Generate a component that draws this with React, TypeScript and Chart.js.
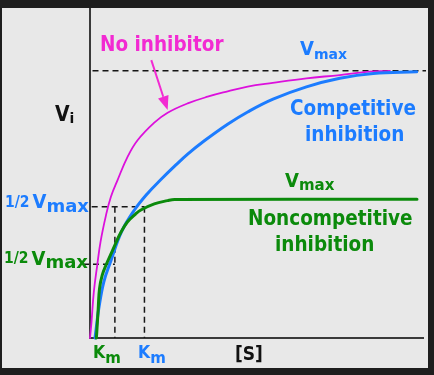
import { useEffect, useRef } from "react";
import { Chart, registerables } from "chart.js";

Chart.register(...registerables);

// ---- data (substrate concentration [S] in arbitrary units, velocity as % of Vmax) ----
const sNoInhibitor = [0, 0.45, 1.14, 2.16, 3.15, 4.8, 6.24, 8.25, 11.24, 14.24, 19.25, 23.24, 29.24, 35.23, 41.23, 47.2, 54.7, 64.8, 74.8, 82.8, 89.8];
const vNoInhibitor = [0, 6.0, 17.2, 27.2, 36.0, 46.0, 52.8, 59.1, 67.8, 74.0, 80.6, 84.3, 87.8, 90.3, 92.3, 94.1, 95.5, 97.2, 98.4, 99.6, 100];

const sCompetitive = [1.5, 1.8, 2.64, 4.14, 6.15, 9.45, 13.25, 17.24, 21.23, 25.25, 29.24, 34.24, 41.2, 47.2, 54.8, 64.8, 74.8, 84.8, 97.8];
const vCompetitive = [0, 3.0, 11.1, 21.0, 28.5, 39.8, 47.8, 54.1, 59.3, 64.2, 68.8, 73.8, 80.0, 84.6, 89.4, 94.0, 97.2, 99.0, 99.6];

const sNoncompetitive = [1.9, 2.0, 2.46, 2.85, 3.66, 4.86, 6.66, 7.65, 9.15, 11.24, 13.64, 15.23, 19.25, 23.24, 25.3, 97.9];
const vNoncompetitive = [0, 1.6, 11.0, 18.5, 23.5, 27.5, 32.5, 35.3, 39.3, 43.5, 46.4, 47.9, 50.2, 51.4, 51.8, 51.9];

const vmax = 100;
const vmaxLineSpan = [0.75, 100.6];
const halfVmaxCompetitive = 49.1;
const halfVmaxNoncompetitive = 27.6;
const kmCompetitive = 16.3;
const kmNoncompetitive = 7.45;
const halfCompSpan = [0.5, kmCompetitive];
const halfNoncompSpan = [-2.1, kmNoncompetitive];
const arrowFrom = [18.35, 104.0];
const arrowTo = [23.24, 85.3];

const W = 434;
const H = 375;

const MAGENTA_LINE = "#dc10dc";
const MAGENTA_TEXT = "#f22ad2";
const BLUE = "#1c7cff";
const GREEN = "#0b8a0b";
const DASH = "#161616";

const F = (size: number, cond = true) =>
  `bold ${size}px ${cond ? '"DejaVu Sans Condensed", ' : ""}"DejaVu Sans", sans-serif`;

type Part = [string, string, number, number?];

function run(ctx: CanvasRenderingContext2D, x: number, y: number, color: string, parts: Part[]) {
  let cx = x;
  ctx.fillStyle = color;
  ctx.textBaseline = "alphabetic";
  ctx.textAlign = "left";
  for (const [t, font, dy, gap] of parts) {
    ctx.font = font;
    ctx.fillText(t, cx, y + dy);
    cx += ctx.measureText(t).width + (gap || 0);
  }
}

const pts = (xs: number[], ys: number[]) => xs.map((x, i) => ({ x, y: ys[i] }));

export default function App() {
  const ref = useRef<HTMLCanvasElement>(null);

  useEffect(() => {
    const canvas = ref.current;
    if (!canvas) return;

    const deco = {
      id: "deco",
      beforeDraw(chart: any) {
        const ctx = chart.ctx as CanvasRenderingContext2D;
        ctx.save();
        ctx.fillStyle = "#1e1e1e";
        ctx.fillRect(0, 0, W, H);
        ctx.fillStyle = "#e8e8e8";
        ctx.fillRect(2, 8, 426, 360);
        ctx.restore();
      },
      beforeDatasetsDraw(chart: any) {
        const ctx = chart.ctx as CanvasRenderingContext2D;
        const a = chart.chartArea;
        ctx.save();
        ctx.strokeStyle = "#3a3a3a";
        ctx.lineWidth = 2;
        ctx.beginPath();
        ctx.moveTo(a.left, a.top);
        ctx.lineTo(a.left, a.bottom);
        ctx.lineTo(a.right, a.bottom);
        ctx.stroke();
        ctx.restore();
      },
      afterDatasetsDraw(chart: any) {
        const ctx = chart.ctx as CanvasRenderingContext2D;
        const xs = chart.scales.x;
        const ys = chart.scales.y;
        ctx.save();
        // arrow
        const x1 = xs.getPixelForValue(arrowFrom[0]);
        const y1 = ys.getPixelForValue(arrowFrom[1]);
        const x2 = xs.getPixelForValue(arrowTo[0]);
        const y2 = ys.getPixelForValue(arrowTo[1]);
        const ang = Math.atan2(y2 - y1, x2 - x1);
        const hl = 14;
        const hw = 5.5;
        const bx = x2 - hl * Math.cos(ang);
        const by = y2 - hl * Math.sin(ang);
        ctx.strokeStyle = MAGENTA_TEXT;
        ctx.fillStyle = MAGENTA_TEXT;
        ctx.lineWidth = 2;
        ctx.beginPath();
        ctx.moveTo(x1, y1);
        ctx.lineTo(bx, by);
        ctx.stroke();
        ctx.beginPath();
        ctx.moveTo(x2, y2);
        ctx.lineTo(bx + hw * Math.sin(ang), by - hw * Math.cos(ang));
        ctx.lineTo(bx - hw * Math.sin(ang), by + hw * Math.cos(ang));
        ctx.closePath();
        ctx.fill();

        // texts
        run(ctx, 100, 51, MAGENTA_TEXT, [["No inhibitor", F(20.5), 0]]);
        run(ctx, 300, 55, BLUE, [["V", F(20), 0], ["max", F(14, false), 4]]);
        run(ctx, 55, 120.5, "#111", [["V", F(21), 0], ["i", F(14, false), 2.5]]);
        run(ctx, 290, 115, BLUE, [["Competitive", F(20.5), 0]]);
        run(ctx, 305, 141, BLUE, [["inhibition", F(20.5), 0]]);
        run(ctx, 285, 186.5, GREEN, [["V", F(20), 0], ["max", F(15, false), 3.5]]);
        run(ctx, 248, 225, GREEN, [["Noncompetitive", F(20.5), 0]]);
        run(ctx, 275, 251, GREEN, [["inhibition", F(20.5), 0]]);
        run(ctx, 5, 207, BLUE, [["1/2", F(15.5), 0, 3], ["V", F(20), 1], ["max", F(18, false), 4.5]]);
        run(ctx, 4, 263, GREEN, [["1/2", F(15.5), 0, 3], ["V", F(20), 2], ["max", F(18, false), 5]]);
        run(ctx, 93, 358, GREEN, [["K", F(17.5), 0], ["m", F(15, false), 5]]);
        run(ctx, 138, 358, BLUE, [["K", F(17.5), 0], ["m", F(15, false), 5]]);
        run(ctx, 235, 360, "#111", [["[S]", F(19), 0]]);
        ctx.restore();
      },
    };

    const dash = (data: { x: number; y: number }[]) => ({
      data,
      showLine: true,
      borderColor: DASH,
      borderWidth: 1.5,
      borderDash: [6, 4],
      pointRadius: 0,
      clip: false as any,
    });

    const curve = (data: { x: number; y: number }[], color: string, width: number) => ({
      data,
      showLine: true,
      borderColor: color,
      borderWidth: width,
      pointRadius: 0,
      tension: 0.4,
      borderCapStyle: "round" as const,
      borderJoinStyle: "round" as const,
      clip: false as any,
    });

    const chart = new Chart(canvas, {
      type: "scatter",
      data: {
        datasets: [
          curve(pts(sNoncompetitive, vNoncompetitive), GREEN, 3),
          curve(pts(sCompetitive, vCompetitive), BLUE, 3),
          curve(pts(sNoInhibitor, vNoInhibitor), MAGENTA_LINE, 1.8),
          dash([{ x: vmaxLineSpan[0], y: vmax }, { x: vmaxLineSpan[1], y: vmax }]),
          dash([{ x: halfCompSpan[0], y: halfVmaxCompetitive }, { x: halfCompSpan[1], y: halfVmaxCompetitive }]),
          dash([{ x: halfNoncompSpan[0], y: halfVmaxNoncompetitive }, { x: halfNoncompSpan[1], y: halfVmaxNoncompetitive }]),
          dash([{ x: kmCompetitive, y: halfVmaxCompetitive }, { x: kmCompetitive, y: 0 }]),
          dash([{ x: kmNoncompetitive, y: halfVmaxCompetitive }, { x: kmNoncompetitive, y: 0 }]),
        ] as any,
      },
      options: {
        responsive: false,
        devicePixelRatio: 1,
        animation: false,
        events: [],
        layout: { padding: { left: 90, top: 8, right: 10, bottom: 37 } },
        plugins: { legend: { display: false }, tooltip: { enabled: false } },
        scales: {
          x: { type: "linear", display: false, min: 0, max: 100 },
          y: { type: "linear", display: false, min: 0, max: 123.5 },
        },
      },
      plugins: [deco],
    });

    return () => chart.destroy();
  }, []);

  return (
    <div style={{ position: "absolute", left: 0, top: 0, width: W, height: H }}>
      <canvas ref={ref} width={W} height={H} style={{ width: W, height: H, display: "block" }} />
    </div>
  );
}
